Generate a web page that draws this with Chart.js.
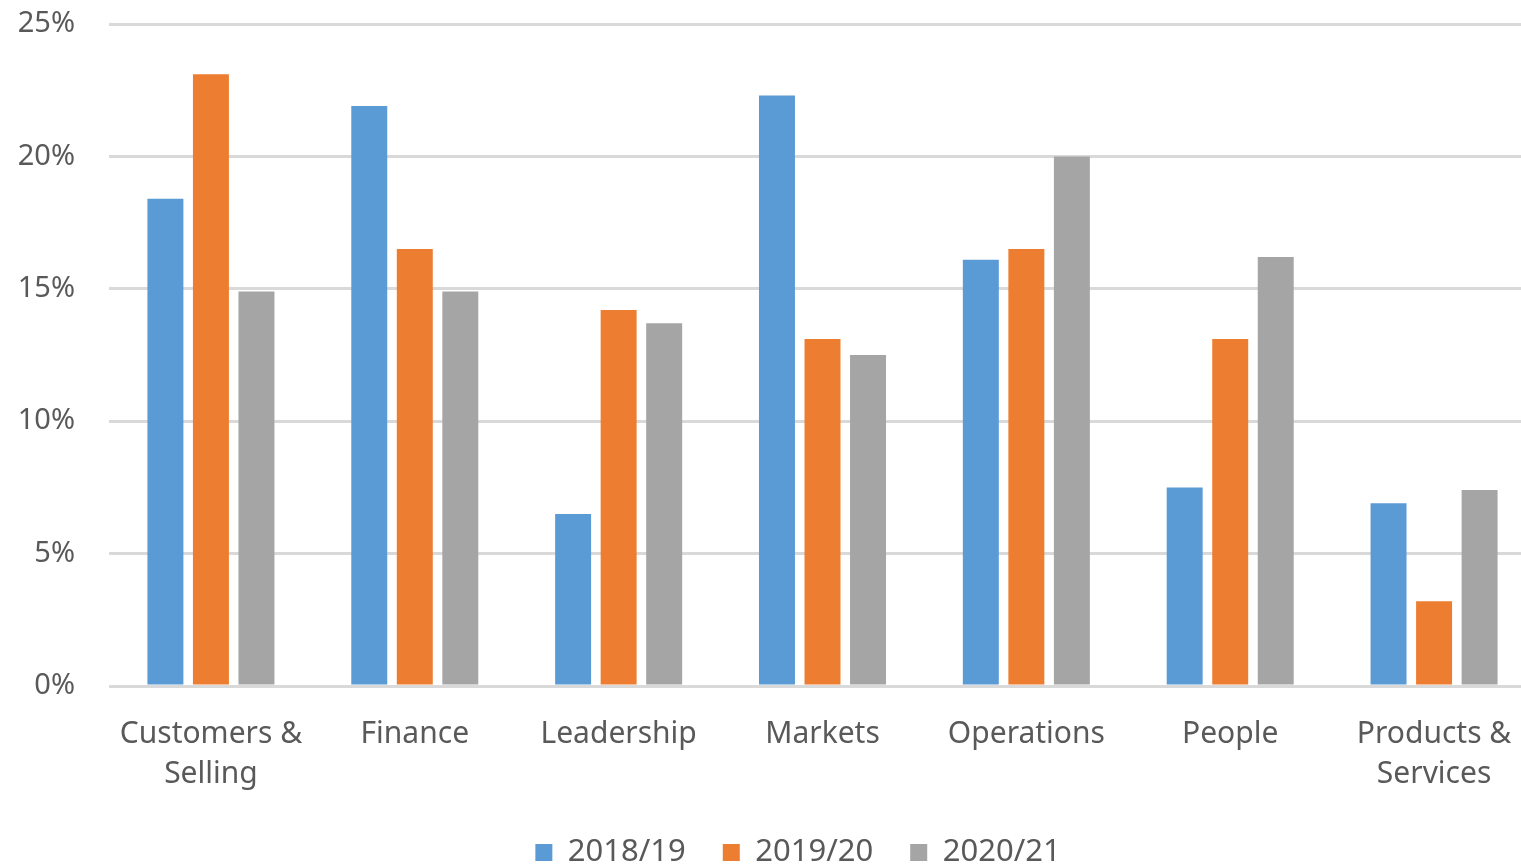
<!DOCTYPE html>
<html>
<head>
<meta charset="utf-8">
<script src="https://cdn.jsdelivr.net/npm/chart.js@4"></script>
<style>
  html, body { margin: 0; padding: 0; background: #fff; overflow: hidden; }
  #wrap { width: 1582px; height: 868px; }
</style>
</head>
<body>
<div id="wrap"><canvas id="chart" width="1582" height="868"></canvas></div>
<script>
const categories = [
  ['Customers &', 'Selling'],
  'Finance',
  'Leadership',
  'Markets',
  'Operations',
  'People',
  ['Products &', 'Services']
];
const seriesNames = ['2018/19', '2019/20', '2020/21'];
const values2018 = [18.4, 21.9, 6.5, 22.3, 16.1, 7.5, 6.9];
const values2019 = [23.1, 16.5, 14.2, 13.1, 16.5, 13.1, 3.2];
const values2020 = [14.9, 14.9, 13.7, 12.5, 20.0, 16.2, 7.4];
const yTicks = [0, 5, 10, 15, 20, 25];

const colors = ['#5B9BD5', '#ED7D31', '#A5A5A5'];
const textColor = '#595959';
const font = "'Noto Sans', sans-serif";

// legend: short box with wide item spacing, nudged right to sit under the original chart centre
const legendTweak = {
  id: 'legendTweak',
  afterInit(chart) {
    const lg = chart.legend;
    const fit = lg.fit;
    lg.fit = function () { fit.call(this); this.height = 68; };
  },
  afterLayout(chart) {
    chart.legend.left += 30;
    chart.legend.right += 30;
  }
};

const ctx = document.getElementById('chart').getContext('2d');
new Chart(ctx, {
  type: 'bar',
  data: {
    labels: categories,
    datasets: [values2018, values2019, values2020].map((vals, i) => ({
      label: seriesNames[i],
      data: vals,
      backgroundColor: colors[i],
      borderWidth: 0,
      categoryPercentage: 0.67,
      barPercentage: 0.79
    }))
  },
  plugins: [legendTweak],
  options: {
    responsive: false,
    animation: false,
    layout: { padding: { top: 24, right: 46, left: 0, bottom: 0 } },
    plugins: {
      tooltip: { enabled: false },
      legend: {
        position: 'bottom',
        labels: {
          boxWidth: 17,
          boxHeight: 17,
          padding: 37,
          color: textColor,
          font: { family: font, size: 31 }
        }
      }
    },
    scales: {
      x: {
        grid: { display: false },
        border: { display: false },
        ticks: {
          color: textColor,
          padding: 21,
          maxRotation: 0,
          autoSkip: false,
          font: { family: font, size: 30, lineHeight: 1.33 }
        },
        afterFit: s => { s.height = 114; }
      },
      y: {
        min: 0,
        max: 25,
        afterBuildTicks: s => { s.ticks = yTicks.map(v => ({ value: v })); },
        grid: { color: '#D9D9D9', lineWidth: 3, drawTicks: true, tickLength: 34, tickColor: 'rgba(0,0,0,0)' },
        border: { display: false },
        ticks: {
          color: textColor,
          padding: 0,
          font: { family: font, size: 29 },
          callback: v => v + '%'
        },
        afterFit: s => { s.width = 109; }
      }
    }
  }
});
</script>
</body>
</html>
